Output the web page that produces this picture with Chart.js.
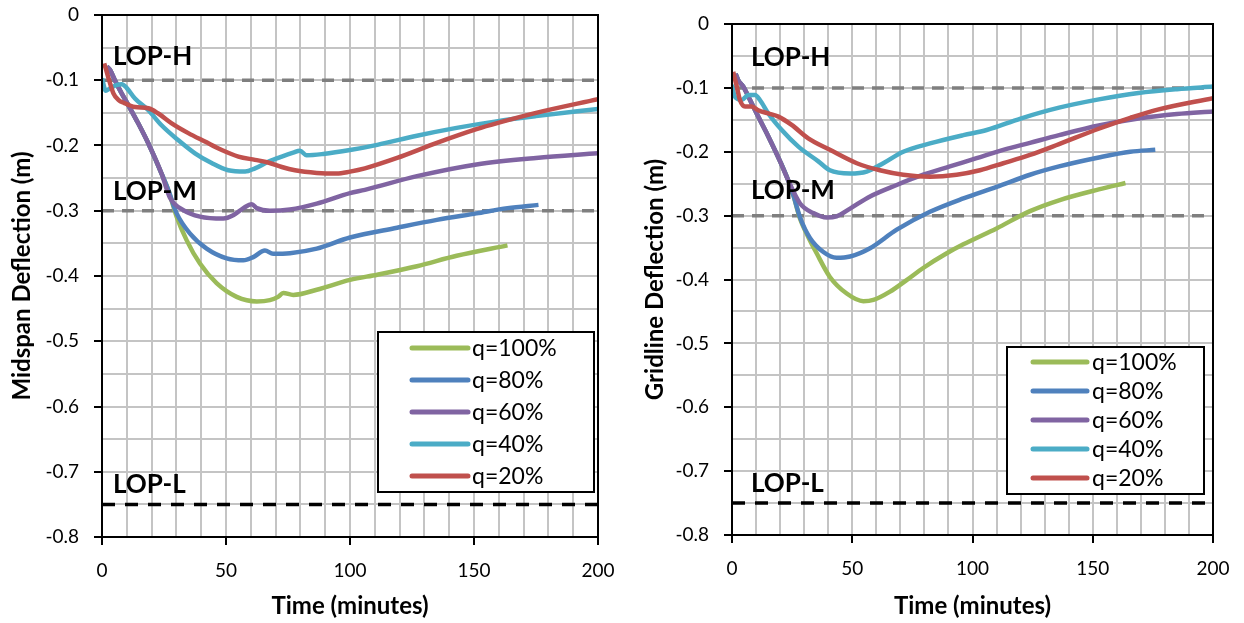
<!DOCTYPE html>
<html>
<head>
<meta charset="utf-8">
<script src="https://cdn.jsdelivr.net/npm/chart.js@4.4.1/dist/chart.umd.min.js"></script>
<style>
  body { margin: 0; background: #fff; }
  #wrap { position: relative; width: 1244px; height: 623px; }
  canvas { position: absolute; top: 0; }
</style>
</head>
<body>
<div id="wrap">
  <canvas id="midChart" width="620" height="623" style="left:0;width:620px;height:623px"></canvas>
  <canvas id="gridChart" width="622" height="623" style="left:622px;width:622px;height:623px"></canvas>
</div>
<script>
// series labels (legend order)
const seriesLabels = ['q=100%', 'q=80%', 'q=60%', 'q=40%', 'q=20%'];

// Midspan deflection (left chart): time in minutes, deflection in m
const midTime100 = [1.9, 3.2, 5.2, 7.9, 10.6, 14.6, 18.7, 24, 26.7, 30.1, 34.1, 39.5, 46.2, 54.3, 62.4, 67.7, 71, 73.1, 77.1, 86.6, 100, 111, 127, 143, 163.5];
const midDefl100 = [-0.079, -0.084, -0.1, -0.12, -0.138, -0.166, -0.197, -0.243, -0.268, -0.309, -0.345, -0.381, -0.411, -0.432, -0.439, -0.437, -0.432, -0.426, -0.429, -0.421, -0.406, -0.398, -0.385, -0.369, -0.353];
const midTime80 = [1.9, 3.2, 5.2, 7.9, 10.6, 14.6, 18.7, 24, 26.7, 30.1, 35.5, 42.2, 50.3, 57, 61, 65.7, 69, 75.8, 86.6, 100, 119, 135, 151, 163.5, 176];
const midDefl80 = [-0.079, -0.084, -0.1, -0.12, -0.138, -0.166, -0.197, -0.243, -0.268, -0.304, -0.335, -0.358, -0.373, -0.376, -0.371, -0.361, -0.366, -0.365, -0.358, -0.341, -0.326, -0.314, -0.304, -0.296, -0.291];
const midTime60 = [1.9, 3.2, 5.2, 7.9, 10.6, 14.6, 18.7, 24, 27.4, 32.8, 39.5, 48.9, 52.9, 57, 60.4, 62.4, 67.7, 75.8, 86.6, 100, 106, 127, 151, 175, 200];
const midDefl60 = [-0.079, -0.084, -0.1, -0.12, -0.138, -0.166, -0.197, -0.243, -0.28, -0.299, -0.309, -0.312, -0.307, -0.296, -0.29, -0.296, -0.3, -0.298, -0.289, -0.273, -0.268, -0.247, -0.229, -0.219, -0.212];
const midTime40 = [0, 1.5, 3, 6, 8, 10, 13.3, 18.7, 24, 30.8, 37.5, 44.2, 50.9, 57.7, 61.7, 67, 72.5, 77.1, 79.8, 82.5, 89.2, 100, 111, 127, 143, 159, 175, 200];
const midDefl40 = [-0.097, -0.116, -0.113, -0.107, -0.106, -0.112, -0.128, -0.146, -0.169, -0.192, -0.212, -0.227, -0.238, -0.24, -0.235, -0.225, -0.217, -0.211, -0.208, -0.215, -0.213, -0.207, -0.199, -0.185, -0.173, -0.163, -0.155, -0.144];
const midTime20 = [0.9, 2.5, 4.6, 6.6, 9, 13.3, 18.7, 22.7, 28.1, 34.8, 41.5, 48.3, 55, 61.7, 67, 72.5, 77.8, 86.6, 94.6, 100, 106, 119, 135, 151, 160, 175, 200];
const midDefl20 = [-0.074, -0.095, -0.12, -0.13, -0.135, -0.141, -0.143, -0.151, -0.166, -0.181, -0.194, -0.207, -0.217, -0.222, -0.226, -0.233, -0.238, -0.242, -0.243, -0.24, -0.235, -0.219, -0.196, -0.175, -0.165, -0.15, -0.129];

// Gridline deflection (right chart)
const gridTime100 = [1.5, 2.6, 4.7, 7.5, 10.9, 15.1, 20, 23.4, 25.5, 28.3, 31, 35.2, 40.7, 47.7, 54.6, 58.8, 65.7, 72.6, 79.5, 89.3, 96.2, 110, 123.9, 136, 152.5, 163.6];
const gridDefl100 = [-0.078, -0.088, -0.098, -0.119, -0.145, -0.176, -0.215, -0.245, -0.268, -0.305, -0.328, -0.359, -0.396, -0.422, -0.434, -0.432, -0.419, -0.401, -0.382, -0.359, -0.345, -0.32, -0.293, -0.276, -0.259, -0.249];
const gridTime80 = [1.5, 2.6, 4.7, 7.5, 10.9, 15.1, 20, 23.4, 25.5, 28.3, 32.4, 38, 43.5, 49.1, 57.4, 68.5, 82.3, 96.2, 110, 123.9, 136, 152.5, 165.6, 176];
const gridDefl80 = [-0.078, -0.088, -0.098, -0.119, -0.145, -0.176, -0.215, -0.245, -0.268, -0.303, -0.335, -0.357, -0.366, -0.364, -0.351, -0.322, -0.294, -0.273, -0.255, -0.236, -0.223, -0.209, -0.2, -0.197];
const gridTime60 = [1.5, 2.6, 4.7, 7.5, 10.9, 15.1, 20, 23.4, 28.3, 33.8, 39.4, 43.5, 49.1, 57.4, 68.5, 79.5, 90.6, 101.7, 112.8, 123.9, 136, 152.5, 169, 185, 200];
const gridDefl60 = [-0.078, -0.088, -0.098, -0.119, -0.145, -0.176, -0.215, -0.245, -0.281, -0.296, -0.303, -0.301, -0.289, -0.27, -0.252, -0.236, -0.223, -0.21, -0.197, -0.186, -0.174, -0.159, -0.148, -0.141, -0.137];
const gridTime40 = [0, 1.2, 4, 6.8, 9.6, 11.6, 15.1, 20.7, 27.6, 35.9, 40.7, 49.1, 56, 62.9, 71.2, 82.3, 96.2, 105.9, 120, 136, 152.5, 169, 185, 200];
const gridDefl40 = [-0.095, -0.114, -0.119, -0.111, -0.111, -0.119, -0.14, -0.166, -0.192, -0.215, -0.229, -0.234, -0.231, -0.218, -0.2, -0.187, -0.174, -0.166, -0.148, -0.131, -0.118, -0.108, -0.102, -0.098];
const gridTime20 = [0.5, 2, 3.3, 5.4, 8.2, 10.9, 15.1, 19.3, 24.8, 31.7, 40.7, 51.9, 61.5, 71.2, 82.3, 93.4, 103.1, 112.8, 123.9, 136, 152.5, 165.6, 177, 200];
const gridDefl20 = [-0.075, -0.098, -0.119, -0.129, -0.129, -0.135, -0.14, -0.145, -0.158, -0.179, -0.197, -0.218, -0.229, -0.236, -0.239, -0.236, -0.229, -0.218, -0.205, -0.188, -0.164, -0.147, -0.134, -0.116];

// limit-of-performance levels
const lopNames = ['LOP-H', 'LOP-M', 'LOP-L'];
const lopLevels = [-0.1, -0.3, -0.75];
const timeRange = [0, 200];

const seriesColors = ['#9BBB59', '#4F81BD', '#8064A2', '#4BACC6', '#C0504D'];
const lopColors = ['#7f7f7f', '#7f7f7f', '#000000'];

function pairs(xs, ys) {
    return xs.map(function(x, i) { return { x: x, y: ys[i] }; });
}

var decorPlugin = {
    id: 'decor',
    afterDatasetsDraw: function(chart, args, o) {
        var ctx = chart.ctx, a = chart.chartArea;
        var xs = chart.scales.x, ys = chart.scales.y;
        ctx.save();
        // LOP text
        ctx.fillStyle = '#000';
        ctx.font = 'bold 26px Lato';
        ctx.textAlign = 'left';
        ctx.textBaseline = 'middle';
        lopNames.forEach(function(name, i) {
            ctx.fillText(name, xs.getPixelForValue(o.labelX), ys.getPixelForValue(o.labelY[i]));
        });
        // plot frame
        ctx.strokeStyle = '#000';
        ctx.lineWidth = 2;
        ctx.strokeRect(a.left, a.top, a.width, a.height);
        // legend box
        var L = o.legend;
        var bx = a.right - L.right - L.w, by = a.top + L.top;
        ctx.fillStyle = '#fff';
        ctx.fillRect(bx, by, L.w, L.h);
        ctx.strokeRect(bx, by, L.w, L.h);
        ctx.font = '23px Lato';
        ctx.lineCap = 'round';
        chart.data.datasets.forEach(function(ds, i) {
            if (!ds.inLegend) return;
            var y = by + L.first + i * L.step;
            ctx.strokeStyle = ds.borderColor;
            ctx.lineWidth = 5;
            ctx.beginPath();
            ctx.moveTo(bx + L.lineFrom, y);
            ctx.lineTo(bx + L.lineTo, y);
            ctx.stroke();
            ctx.fillStyle = '#000';
            ctx.fillText(ds.label, bx + L.text, y + 1);
        });
        ctx.restore();
    }
};

function makeChart(id, times, defls, yTitle, lay) {
    var datasets = [];
    seriesLabels.forEach(function(lbl, i) {
        datasets.push({
            label: lbl,
            data: pairs(times[i], defls[i]),
            borderColor: seriesColors[i],
            borderWidth: 4.5,
            pointRadius: 0,
            cubicInterpolationMode: 'monotone',
            order: 5 - i,
            inLegend: true
        });
    });
    lopLevels.forEach(function(lv, i) {
        datasets.push({
            label: lopNames[i],
            data: [{ x: timeRange[0], y: lv }, { x: timeRange[1], y: lv }],
            borderColor: lopColors[i],
            borderWidth: 3.5,
            borderDash: i < 2 ? [12, 8] : [13, 10],
            pointRadius: 0,
            order: 10
        });
    });

    var ctx = document.getElementById(id).getContext('2d');
    return new Chart(ctx, {
        type: 'line',
        data: { datasets: datasets },
        options: {
            responsive: false,
            animation: false,
            layout: { padding: { left: 0, top: lay.top, right: lay.right, bottom: 0 } },
            scales: {
                x: {
                    type: 'linear',
                    min: timeRange[0],
                    max: timeRange[1],
                    afterFit: function(s) {
                        s.height = lay.xHeight;
                        s.paddingLeft = 0;
                        s.paddingRight = 0;
                    },
                    border: { display: false },
                    grid: {
                        color: '#c4c4c4',
                        lineWidth: 2,
                        tickLength: 8,
                        tickColor: function(c) { return c.tick && c.tick.value % 50 === 0 ? '#000' : 'rgba(0,0,0,0)'; }
                    },
                    ticks: {
                        stepSize: 10,
                        autoSkip: false,
                        maxRotation: 0,
                        padding: 14,
                        color: '#000',
                        font: { family: 'Lato', size: 19 },
                        callback: function(v) { return v % 50 === 0 ? String(v) : ''; }
                    },
                    title: {
                        display: true,
                        text: 'Time (minutes)',
                        color: '#000',
                        font: { family: 'Lato', size: 24, weight: 'bold' },
                        padding: { top: 0, bottom: 2 }
                    }
                },
                y: {
                    min: -0.8,
                    max: 0,
                    afterFit: function(s) {
                        s.width = lay.yWidth;
                        s.paddingTop = 0;
                        s.paddingBottom = 0;
                    },
                    border: { display: false },
                    grid: {
                        color: '#c4c4c4',
                        lineWidth: 2,
                        tickLength: 8,
                        tickColor: function(c) {
                            return c.tick && Math.round(c.tick.value * 100) % 10 === 0 ? '#000' : 'rgba(0,0,0,0)';
                        }
                    },
                    ticks: {
                        stepSize: 0.05,
                        autoSkip: false,
                        padding: 15,
                        color: '#000',
                        font: { family: 'Lato', size: 19 },
                        callback: function(v) {
                            if (Math.round(v * 100) % 10 !== 0) return '';
                            return Math.abs(v) < 1e-9 ? '0' : v.toFixed(1);
                        }
                    },
                    title: {
                        display: true,
                        text: yTitle,
                        color: '#000',
                        font: { family: 'Lato', size: 24, weight: 'bold' },
                        padding: { top: lay.yTitlePad, bottom: 0 }
                    }
                }
            },
            plugins: {
                legend: { display: false },
                tooltip: { enabled: false },
                decor: {
                    labelX: lay.labelX,
                    labelY: lay.labelY,
                    legend: lay.legend
                }
            }
        },
        plugins: [decorPlugin]
    });
}

document.addEventListener('DOMContentLoaded', function() {
    makeChart('midChart',
        [midTime100, midTime80, midTime60, midTime40, midTime20],
        [midDefl100, midDefl80, midDefl60, midDefl40, midDefl20],
        'Midspan Deflection (m)',
        {
            top: 15, right: 22, xHeight: 86, yWidth: 102, yTitlePad: 8,
            labelX: 4.4, labelY: [-0.064, -0.27, -0.72],
            legend: { right: 4, top: 317, w: 216, h: 160, first: 16, step: 32, lineFrom: 34, lineTo: 90, text: 94 }
        });
    makeChart('gridChart',
        [gridTime100, gridTime80, gridTime60, gridTime40, gridTime20],
        [gridDefl100, gridDefl80, gridDefl60, gridDefl40, gridDefl20],
        'Gridline Deflection (m)',
        {
            top: 24, right: 31, xHeight: 88, yWidth: 110, yTitlePad: 19,
            labelX: 7.9, labelY: [-0.052, -0.261, -0.719],
            legend: { right: 9, top: 323, w: 197, h: 147, first: 15, step: 29, lineFrom: 26, lineTo: 80, text: 85 }
        });
});
</script>
</body>
</html>
